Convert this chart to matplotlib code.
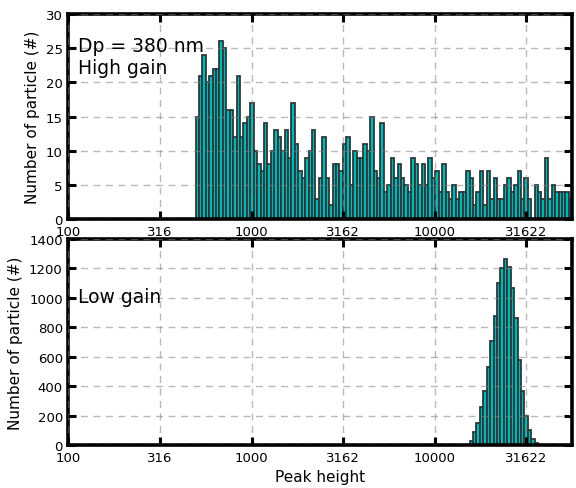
"""Peak-height histograms, high gain vs low gain channel (Dp = 380 nm)."""
import numpy as np
import matplotlib
matplotlib.use("Agg")
import matplotlib.pyplot as plt

# counts per log bin
high_gain_counts = [
    15, 21, 24, 20, 21, 22, 22, 26, 25, 16, 16, 12, 21, 12, 14, 15,
    17, 10, 8, 7, 14, 8, 10, 13, 12, 10, 13, 9, 17, 11, 7, 6, 9, 10, 13, 3,
    6, 12, 6, 2, 8, 8, 7, 11, 12, 5, 10, 9, 9, 11, 10, 15, 7, 6,
    14, 4, 5, 9, 6, 8, 6, 5, 4, 9, 8, 5, 8, 5, 9, 6, 7,
    4, 8, 4, 3, 5, 3, 4, 4, 7, 6, 2, 4, 7, 2, 7, 3, 6, 3, 3,
    5, 6, 4, 5, 7, 3, 6, 3, 0, 5, 4, 3, 9, 3, 5, 4, 4, 4, 4, 3,
]
low_gain_counts = [25, 86, 147, 256, 365, 530, 710, 880, 1100, 1205,
                   1265, 1210, 1070, 860, 580, 365, 195, 105, 40, 15]
low_gain_first_bin = 80

log_lo, log_hi = 2.694, 4.75  # log10 range of the histogram bins
x_ticks = 10 ** np.arange(2, 5, 0.5)
x_tick_labels = ["100", "316", "1000", "3162", "10000", "31622"]
hg_yticks = np.arange(0, 31, 5)
lg_yticks = np.arange(0, 1401, 200)

edges = 10 ** np.linspace(log_lo, log_hi, len(high_gain_counts) + 1)
bar_kw = dict(align="edge", facecolor="#00b8b8", edgecolor="#2a3a3a", linewidth=1.3)


def style_axes(ax, yticks):
    ax.set_xscale("log")
    ax.set_xlim(100, 10 ** log_hi)
    ax.set_xticks(x_ticks)
    ax.set_xticklabels(x_tick_labels)
    ax.minorticks_off()
    ax.set_yticks(yticks)
    ax.set_ylim(yticks[0], yticks[-1])
    ax.tick_params(which="major", direction="in", length=6, width=2.2,
                   top=True, right=True, labelsize=9.5, pad=4)
    for s in ax.spines.values():
        s.set_linewidth(2.6)
    ax.grid(True, color="gray", alpha=0.55, ls="--", lw=1.0, dashes=(5, 4))
    ax.set_axisbelow(False)
    ax.set_ylabel("Number of particle (#)", fontsize=11)


fig = plt.figure(figsize=(5.76, 4.89), dpi=100)
ax1 = fig.add_axes([0.1186, 0.5501, 0.875, 0.4192])
ax2 = fig.add_axes([0.1186, 0.0879, 0.875, 0.4213])

ax1.bar(edges[:-1], high_gain_counts, width=np.diff(edges), **bar_kw)
i0 = low_gain_first_bin
i1 = i0 + len(low_gain_counts)
ax2.bar(edges[i0:i1], low_gain_counts, width=np.diff(edges)[i0:i1], **bar_kw)

style_axes(ax1, hg_yticks)
style_axes(ax2, lg_yticks)
ax2.set_xlabel("Peak height", fontsize=11)

ax1.text(0.019, 0.895, "Dp = 380 nm\nHigh gain", transform=ax1.transAxes,
         fontsize=13.5, va="top", ha="left", linespacing=1.2)
ax2.text(0.019, 0.723, "Low gain", transform=ax2.transAxes,
         fontsize=13.5, va="center", ha="left")

fig.savefig("out.png", dpi=100)
